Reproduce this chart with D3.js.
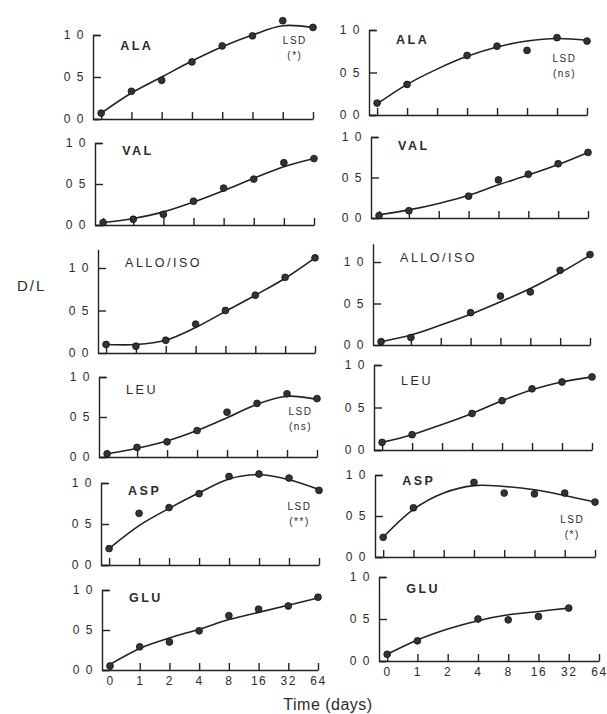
<!DOCTYPE html>
<html>
<head>
<meta charset="utf-8">
<script src="https://cdn.jsdelivr.net/npm/d3@7"></script>
<style>
body { margin: 0; background: #fff; }
svg text { font-family: "Liberation Sans", Arial, sans-serif; fill: #2b2b2b; }
</style>
</head>
<body>
<div id="chart"></div>
<script>
// D/L ratio against time, two columns of six amino acids

var width = 607,
    height = 714;

var days = ["0", "1", "2", "4", "8", "16", "32", "64"];
var yTicks = [0, 0.5, 1.0];
var yTickLabels = ["0 0", "0 5", "1 0"];
var acids = ["ALA", "VAL", "ALLO/ISO", "LEU", "ASP", "GLU"];

// measured points, one value per day position (null = no point)
var leftPoints = [
    [0.07, 0.33, 0.46, 0.68, 0.87, 0.99, 1.17, 1.09],
    [0.03, 0.07, 0.13, 0.29, 0.45, 0.56, 0.76, 0.81],
    [0.10, 0.08, 0.15, 0.34, 0.50, 0.68, 0.89, 1.12],
    [0.04, 0.12, 0.19, 0.33, 0.56, 0.67, 0.79, 0.73],
    [0.20, 0.63, 0.70, 0.87, 1.08, 1.11, 1.06, 0.91],
    [0.05, 0.29, 0.35, 0.49, 0.68, 0.76, 0.80, 0.91]
];
var rightPoints = [
    [0.14, 0.36, null, 0.70, 0.81, 0.76, 0.91, 0.87],
    [0.03, 0.09, null, 0.27, 0.47, 0.54, 0.67, 0.81],
    [0.04, 0.09, null, 0.39, 0.59, 0.64, 0.90, 1.09],
    [0.09, 0.18, null, 0.43, 0.58, 0.72, 0.80, 0.86],
    [0.24, 0.60, null, 0.91, 0.78, 0.77, 0.78, 0.67],
    [0.08, 0.24, null, 0.50, 0.49, 0.53, 0.63, null]
];

// fitted curves, read at each day position
var leftCurves = [
    [0.07, 0.31, 0.50, 0.69, 0.86, 1.00, 1.11, 1.09],
    [0.03, 0.08, 0.16, 0.28, 0.42, 0.57, 0.71, 0.81],
    [0.10, 0.10, 0.15, 0.30, 0.49, 0.68, 0.88, 1.12],
    [0.04, 0.11, 0.20, 0.33, 0.49, 0.66, 0.76, 0.72],
    [0.20, 0.48, 0.69, 0.88, 1.05, 1.10, 1.04, 0.92],
    [0.07, 0.27, 0.40, 0.51, 0.63, 0.72, 0.81, 0.90]
];
var rightCurves = [
    [0.13, 0.36, 0.54, 0.69, 0.80, 0.87, 0.90, 0.88],
    [0.04, 0.10, 0.18, 0.28, 0.41, 0.53, 0.66, 0.81],
    [0.04, 0.12, 0.24, 0.37, 0.52, 0.68, 0.87, 1.08],
    [0.09, 0.18, 0.30, 0.43, 0.58, 0.71, 0.80, 0.86],
    [0.24, 0.58, 0.78, 0.87, 0.86, 0.82, 0.75, 0.67],
    [0.08, 0.25, 0.38, 0.48, 0.55, 0.59, 0.63, null]
];

// LSD significance notes (null = none)
var leftLsd = ["(*)", null, null, "(ns)", "(**)", null];
var rightLsd = ["(ns)", null, null, null, "(*)", null];

// layout: [y-axis x, x of last day, y of 0.0, y of 1.0]
var frames = {
    left: [[93, 313, 119, 35], [95, 314, 225, 143], [98, 315, 353, 268],
           [99, 317, 457, 377], [101, 319, 565, 483], [102, 318, 670, 590]],
    right: [[369, 587, 115, 30], [371, 588, 218, 137], [373, 590, 345, 262],
            [374, 592, 450, 365], [375, 595, 557, 475], [379, 599, 661, 577]]
};
var titleDy = { left: [15, 12, -1, 17, 12, 12], right: [14, 13, 0, 20, 10, 16] };
// LSD note anchor in data units [day position, D/L]
var lsdAt = { left: [[6.4, 0.89], null, null, [6.45, 0.53], [6.35, 0.67], null],
              right: [[6.25, 0.62], null, null, null, [6.25, 0.41], null] };

var svg = d3.select("#chart")
    .append("svg")
    .attr("width", width)
    .attr("height", height);

var ink = "#222";

function drawPanel(col, row) {
    var f = frames[col][row];
    var points = col == "left" ? leftPoints[row] : rightPoints[row];
    var curve = col == "left" ? leftCurves[row] : rightCurves[row];
    var lsd = col == "left" ? leftLsd[row] : rightLsd[row];

    var x = d3.scaleLinear().domain([-0.27, 7]).range([f[0], f[1]]);
    var y = d3.scaleLinear().domain([0, 1]).range([f[2], f[3]]);

    var top = acids[row] == "ALLO/ISO" ? 1.22 : 1;
    var yAxisScale = y.copy().domain([0, top]).range([f[2], y(top)]);

    var g = svg.append("g").attr("class", "panel");

    // x axis, ticks pointing up
    var xAxis = d3.axisBottom(x)
        .tickValues(d3.range(8))
        .tickSize(-7)
        .tickSizeOuter(0)
        .tickPadding(6)
        .tickFormat(function(d) { return row == 5 ? days[d] : ""; });
    var gx = g.append("g")
        .attr("transform", "translate(0," + f[2] + ")")
        .call(xAxis);

    // y axis, ticks pointing in
    var yAxis = d3.axisLeft(yAxisScale)
        .tickValues(yTicks)
        .tickSize(-8)
        .tickSizeOuter(top == 1 ? -7 : 0)
        .tickPadding(8)
        .tickFormat(function(d, i) { return yTickLabels[i]; });
    var gy = g.append("g")
        .attr("transform", "translate(" + f[0] + ",0)")
        .call(yAxis);

    [gx, gy].forEach(function(a) {
        a.attr("font-family", null).attr("font-size", null);
        a.selectAll("path, line").attr("stroke", ink).attr("stroke-width", 1.4);
        a.selectAll("text")
            .attr("fill", "#2b2b2b")
            .style("font-size", "12px")
            .style("letter-spacing", "1.5px");
    });

    // fitted curve
    var line = d3.line()
        .defined(function(d) { return d != null; })
        .x(function(d, i) { return x(i); })
        .y(function(d) { return y(d); })
        .curve(d3.curveCatmullRom);
    g.append("path")
        .datum(curve)
        .attr("fill", "none")
        .attr("stroke", ink)
        .attr("stroke-width", 1.6)
        .attr("d", line);

    // measured points
    var pts = points.map(function(v, i) { return { i: i, v: v }; })
        .filter(function(d) { return d.v != null; });
    g.selectAll("circle")
        .data(pts)
        .enter()
        .append("circle")
        .attr("cx", function(d) { return x(d.i); })
        .attr("cy", function(d) { return y(d.v); })
        .attr("r", 3.4)
        .attr("fill", "#333")
        .attr("stroke", "#111")
        .attr("stroke-width", 0.8);

    // panel title
    g.append("text")
        .text(acids[row])
        .attr("x", x(0) + 19)
        .attr("y", f[3] + titleDy[col][row])
        .style("font-size", "12.5px")
        .style("font-weight", row == 2 || row == 3 ? "normal" : "bold")
        .style("letter-spacing", "2.5px");

    // LSD note
    if (lsd) {
        var at = lsdAt[col][row];
        var note = g.append("text")
            .attr("text-anchor", "middle")
            .attr("x", x(at[0]))
            .attr("y", y(at[1]))
            .style("font-size", "10px")
            .style("letter-spacing", "1.5px");
        note.append("tspan").text("LSD");
        note.append("tspan")
            .attr("x", x(at[0]))
            .attr("dy", 15)
            .text(lsd);
    }
}

d3.range(6).forEach(function(r) {
    drawPanel("left", r);
    drawPanel("right", r);
});

// axis titles
svg.append("text")
    .text("D/L")
    .attr("x", 17)
    .attr("y", 291)
    .style("font-size", "15px")
    .style("letter-spacing", "2px");

svg.append("text")
    .text("Time (days)")
    .attr("text-anchor", "middle")
    .attr("x", 328)
    .attr("y", 710)
    .style("font-size", "16px")
    .style("letter-spacing", "0.5px");
</script>
</body>
</html>
